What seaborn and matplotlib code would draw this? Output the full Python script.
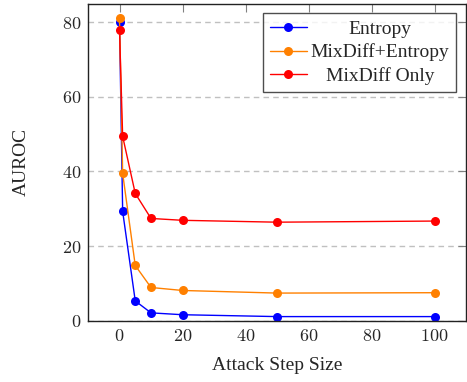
import matplotlib
matplotlib.use("Agg")
import matplotlib.pyplot as plt
import matplotlib.ticker as mticker
import seaborn as sns
import pandas as pd

sns.set_style("white")
plt.rcParams['font.family'] = ['Liberation Serif', 'DejaVu Serif']
plt.rcParams['mathtext.fontset'] = 'cm'

steps = [0, 1, 5, 10, 20, 50, 100]
entropy = [80.0, 29.3, 5.3, 2.1, 1.6, 1.1, 1.1]
mixdiff_entropy = [81.0, 39.5, 14.8, 8.9, 8.1, 7.4, 7.5]
mixdiff_only = [78.0, 49.4, 34.1, 27.4, 26.9, 26.4, 26.7]
series_names = ["Entropy", "MixDiff+Entropy", "MixDiff Only"]
colors = ["#0000ff", "#ff8000", "#ff0000"]

df = pd.concat([
    pd.DataFrame({"step": steps, "auroc": vals, "method": name})
    for name, vals in zip(series_names, [entropy, mixdiff_entropy, mixdiff_only])
])

fig = plt.figure(figsize=(4.67, 3.82), dpi=100)
ax = fig.add_axes([88/467, 61.3/382, 378/467, 317.2/382])
sns.lineplot(data=df, x="step", y="auroc", hue="method", palette=colors,
             hue_order=series_names, marker="o", markersize=6.5, markeredgewidth=0,
             linewidth=1.0, ax=ax)
ax.set_xlim(-10, 110)
ax.set_ylim(0, 85)
ax.set_xticks([0, 20, 40, 60, 80, 100])
ax.set_yticks([0, 20, 40, 60, 80])
fmt = mticker.FuncFormatter(lambda v, p: r"$%d$" % v)
ax.xaxis.set_major_formatter(fmt)
ax.yaxis.set_major_formatter(fmt)
ax.yaxis.grid(True, linestyle=(0, (4, 3)), color="#c0c0c0", linewidth=1)
ax.tick_params(direction="in", top=True, right=True, labelsize=13, length=6,
               width=0.8, color="#808080", pad=5)
for s in ax.spines.values():
    s.set_color("#222222")
    s.set_linewidth(1)
ax.set_xlabel("Attack Step Size", fontsize=14, labelpad=9)
ax.set_ylabel("AUROC", fontsize=14, labelpad=23)
leg = ax.legend(loc="upper right", fontsize=14, frameon=True, fancybox=False,
                edgecolor="#222222", borderpad=0.35, labelspacing=0.3,
                handlelength=1.9, handletextpad=0.2, borderaxespad=0.5,
                markerfirst=True)
leg.get_frame().set_linewidth(1)
fig.canvas.draw()
texts = leg.get_texts()
widths = [t.get_window_extent().width for t in texts]
W = max(widths)
for t, w in zip(texts, widths):
    t.set_x((W - w) / 2)
fig.savefig("out.png", dpi=100)
